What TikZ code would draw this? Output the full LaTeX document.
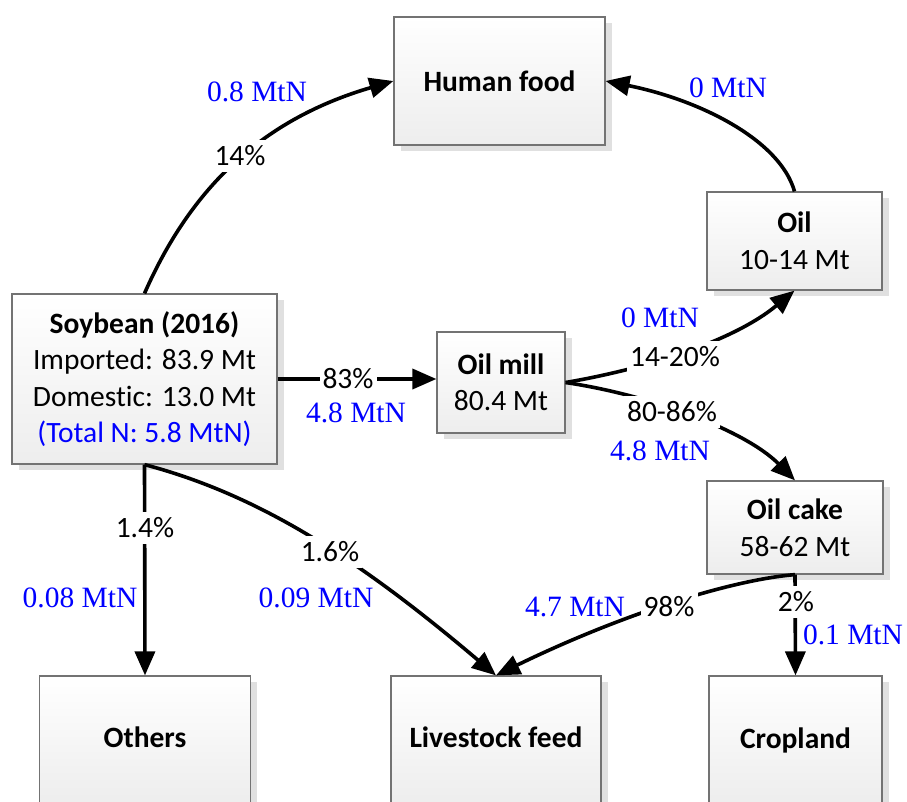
\documentclass[tikz,border=0pt]{standalone}
\usepackage{fontspec}
\setmainfont{Carlito}[Ligatures=NoCommon]
\newfontfamily\tnr{Liberation Serif}
\usetikzlibrary{arrows.meta,shadows}
\begin{document}
\begin{tikzpicture}[x=1pt,y=-1pt,
  box/.style={draw=black!55, line width=1.2pt, top color=white, bottom color=black!7,
    drop shadow={shadow xshift=7pt, shadow yshift=-6pt, fill=black!12, opacity=1},
    align=center, inner sep=0pt, font=\fontsize{29.5}{36.5}\selectfont},
  flow/.style={line width=3.6pt, -{Triangle[length=24pt,width=20pt]}},
  pct/.style={fill=white, inner xsep=3pt, inner ysep=6pt, font=\fontsize{29.5}{30}\selectfont},
  mtn/.style={text=blue, inner sep=0pt, font=\tnr\fontsize{29.5}{30}\selectfont}]
\useasboundingbox (0,0) rectangle (907,801);
% boxes
\node[box, minimum width=211pt, minimum height=128pt] (food) at (499.5,81) {\textbf{Human food}};
\node[box, minimum width=175pt, minimum height=98pt] (oil) at (794.5,241) {\textbf{Oil}\\10-14 Mt};
\node[box, minimum width=265pt, minimum height=170pt] (soy) at (144.5,379) {\textbf{Soybean (2016)}\\Imported: 83.9 Mt\\Domestic: 13.0 Mt\\\textcolor{blue}{(Total N: 5.8 MtN)}};
\node[box, minimum width=128pt, minimum height=101pt] (mill) at (501,382.5) {\textbf{Oil mill}\\80.4 Mt};
\node[box, minimum width=176pt, minimum height=93pt] (cake) at (795,527.5) {\textbf{Oil cake}\\58-62 Mt};
\node[box, minimum width=210.5pt, minimum height=128pt] (others) at (145,740) {\textbf{Others}\vphantom{p}};
\node[box, minimum width=210pt, minimum height=128pt] (feed) at (496,740) {\textbf{Livestock feed}\vphantom{p}};
\node[box, minimum width=173pt, minimum height=128pt] (crop) at (795.5,740) {\textbf{Cropland}};
% connectors
\draw[flow] (soy.north) .. controls (190,190) and (260,120) .. (food.west);
\draw[flow] (oil.north) .. controls (780,140) and (700,100) .. (food.east);
\draw[flow] (soy.east) -- (soy.east -| mill.west);
\draw[flow] (mill.east) .. controls (650,368) and (735,340) .. (oil.south);
\draw[flow] (mill.east) .. controls (650,395) and (745,430) .. (cake.north);
\draw[flow] (soy.south) -- (others.north);
\draw[flow] (soy.south) .. controls (260,495) and (360,560) .. (feed.north);
\draw[flow] (cake.south) .. controls (730,580) and (620,615) .. (feed.north);
\draw[flow] (cake.south) -- (crop.north);
% labels
\node[pct] (l14) at (240,156) {14\%};
\node[mtn] (m08) at (257,92) {0.8 MtN};
\node[mtn] (m0a) at (728,88) {0 MtN};
\node[pct] (l83) at (348,379) {83\%};
\node[mtn] (m48a) at (356,413) {4.8 MtN};
\node[mtn] (m0b) at (660,318) {0 MtN};
\node[pct] (l1420) at (675,357) {14-20\%};
\node[pct] (l8086) at (672,412) {80-86\%};
\node[mtn] (m48b) at (660,451) {4.8 MtN};
\node[pct] (l14b) at (145,528) {1.4\%};
\node[mtn] (m008) at (80,598) {0.08 MtN};
\node[pct] (l16) at (330,552) {1.6\%};
\node[mtn] (m009) at (316,598) {0.09 MtN};
\node[mtn] (m47) at (575,607) {4.7 MtN};
\node[pct] (l98) at (669,607) {98\%};
\node[pct] (l2) at (796,602) {2\%};
\node[mtn] (m01) at (853,635) {0.1 MtN};
\end{tikzpicture}
\end{document}
